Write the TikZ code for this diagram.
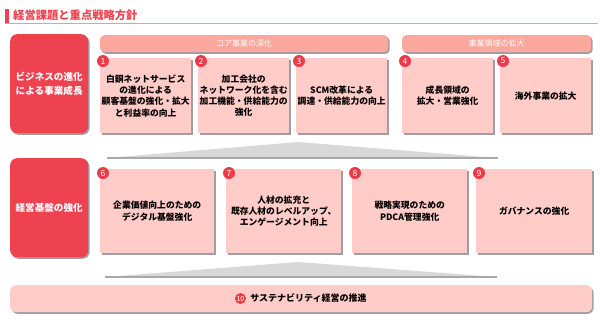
\documentclass[tikz,border=0pt]{standalone}
\usepackage{fontspec}
\setmainfont{Noto Sans CJK JP}
\usetikzlibrary{positioning,shadows}

\definecolor{keyred}{RGB}{238,66,80}
\definecolor{numred}{RGB}{236,58,72}
\definecolor{headpink}{RGB}{250,168,158}
\definecolor{itempink}{RGB}{255,204,199}
\definecolor{rulepink}{RGB}{246,150,156}
\definecolor{wedgegray}{RGB}{216,216,216}
\definecolor{wedgeedge}{RGB}{168,168,168}

\begin{document}
\begin{tikzpicture}[x=1pt, y=-1pt, font=\fontsize{8.8}{11.3}\selectfont\bfseries,
  boxshadow/.style={drop shadow={shadow xshift=1.4pt, shadow yshift=-1.6pt, fill=black!38, opacity=1}},
  pillar/.style={boxshadow, fill=keyred, rounded corners=7pt, minimum width=78pt, minimum height=99pt,
    inner sep=0pt, anchor=north west, align=center, text=white, font=\fontsize{9.6}{13.5}\selectfont\bfseries},
  themebar/.style={boxshadow, fill=headpink, rounded corners=4pt, minimum height=17pt, inner sep=0pt,
    anchor=north west, text=white, font=\fontsize{8}{10}\selectfont},
  itembox/.style={boxshadow, fill=itempink, inner sep=0pt, anchor=north west, align=center},
  numdot/.style={circle, fill=numred, text=white, inner sep=0pt, minimum size=12pt,
    font=\fontsize{8.5}{9}\selectfont}
]

  \useasboundingbox (0,0) rectangle (600,322);

  \def\rowA{58}
  \def\rowB{169}

  % title
  \fill[keyred] (5,9) rectangle (9,23);
  \draw[rulepink, line width=0.8pt] (5,23.6) -- (598,23.6);
  \node[anchor=west, inner sep=0pt, text=keyred, font=\fontsize{11.3}{13}\selectfont\bfseries] (title) at (13,15.5) {経営課題と重点戦略方針};

  % upper row
  \node[pillar] (growth) at (10,34) {ビジネスの進化\\による事業成長};
  \node[themebar, minimum width=288pt] (core) at (100,35) {コア事業の深化};
  \node[themebar, minimum width=189pt] (expand) at (402,35) {事業領域の拡大};

  \node[itembox, minimum width=91pt, minimum height=75pt] (b1) at (100,\rowA) {白銅ネットサービス\\の進化による\\顧客基盤の強化・拡大\\と利益率の向上};
  \node[itembox, minimum width=91pt, minimum height=75pt] (b2) at (198,\rowA) {加工会社の\\ネットワーク化を含む\\加工機能・供給能力の\\強化};
  \node[itembox, minimum width=91pt, minimum height=75pt] (b3) at (296,\rowA) {SCM改革による\\調達・供給能力の向上};
  \node[itembox, minimum width=91pt, minimum height=75pt] (b4) at (402,\rowA) {成長領域の\\拡大・営業強化};
  \node[itembox, minimum width=91pt, minimum height=75pt] (b5) at (500,\rowA) {海外事業の拡大};

  \node[numdot] (n1) at ([shift={(3,3)}]b1.north west) {1};
  \node[numdot] (n2) at ([shift={(3,3)}]b2.north west) {2};
  \node[numdot] (n3) at ([shift={(3,3)}]b3.north west) {3};
  \node[numdot] (n4) at ([shift={(3,3)}]b4.north west) {4};
  \node[numdot] (n5) at ([shift={(3,3)}]b5.north west) {5};

  % wedge between the rows
  \fill[wedgegray] (107,158) -- (298,142) -- (498,158) -- cycle;
  \draw[wedgeedge, line width=1.5pt] (107,158) -- (498,158);

  % lower row
  \node[pillar] (base) at (10,158) {経営基盤の強化};

  \node[itembox, minimum width=114pt, minimum height=84pt] (b6) at (100,\rowB) {企業価値向上のための\\デジタル基盤強化};
  \node[itembox, minimum width=115pt, minimum height=84pt] (b7) at (226,\rowB) {人材の拡充と\\既存人材のレベルアップ、\\エンゲージメント向上};
  \node[itembox, minimum width=115pt, minimum height=84pt] (b8) at (352,\rowB) {戦略実現のための\\PDCA管理強化};
  \node[itembox, minimum width=116pt, minimum height=84pt] (b9) at (476,\rowB) {ガバナンスの強化};

  \node[numdot] (n6) at ([shift={(3,4)}]b6.north west) {6};
  \node[numdot] (n7) at ([shift={(3,4)}]b7.north west) {7};
  \node[numdot] (n8) at ([shift={(3,4)}]b8.north west) {8};
  \node[numdot] (n9) at ([shift={(3,4)}]b9.north west) {9};

  \fill[wedgegray] (105,277) -- (298,262) -- (497,277) -- cycle;
  \draw[wedgeedge, line width=1.5pt] (105,277) -- (497,277);

  % sustainability bar
  \node[itembox, rounded corners=6pt, minimum width=582pt, minimum height=27pt] (bar) at (10,285) {};
  \node[inner sep=0pt, font=\fontsize{9}{11}\selectfont\bfseries] (t10) at (308.5,298.5) {サステナビリティ経営の推進};
  \node[numdot, minimum size=11pt, font=\fontsize{7}{7}\selectfont, left=4pt of t10] (n10) {10};

\end{tikzpicture}
\end{document}
